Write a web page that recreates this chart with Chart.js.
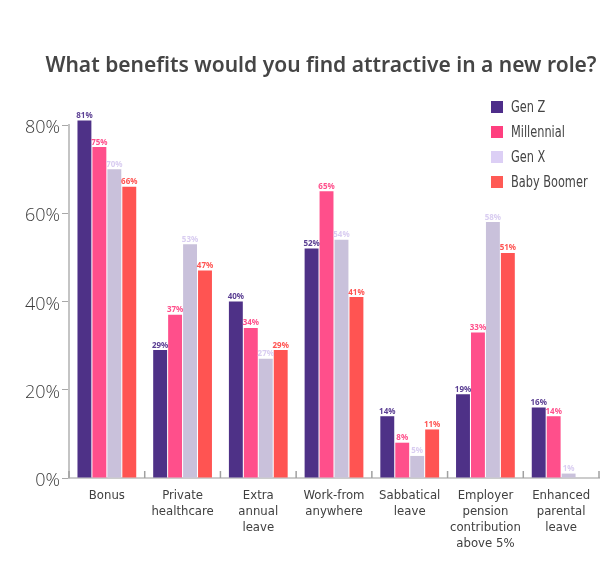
<!DOCTYPE html>
<html>
<head>
<meta charset="utf-8">
<script src="https://cdn.jsdelivr.net/npm/chart.js@4.4.1/dist/chart.umd.min.js"></script>
<style>
  html, body { margin: 0; padding: 0; background: #fff; }
  #wrap { width: 615px; height: 562px; position: relative; }
</style>
</head>
<body>
<div id="wrap"><canvas id="c" width="615" height="562"></canvas></div>
<script>
const titleText = "What benefits would you find attractive in a new role?";
const categories = [
  ["Bonus"],
  ["Private", "healthcare"],
  ["Extra", "annual", "leave"],
  ["Work-from", "anywhere"],
  ["Sabbatical", "leave"],
  ["Employer", "pension", "contribution", "above 5%"],
  ["Enhanced", "parental", "leave"]
];
const seriesNames = ["Gen Z", "Millennial", "Gen X", "Baby Boomer"];
const genZ = [81, 29, 40, 52, 14, 19, 16];
const millennial = [75, 37, 34, 65, 8, 33, 14];
const genX = [70, 53, 27, 54, 5, 58, 1];
const babyBoomer = [66, 47, 29, 41, 11, 51, null];
const yTicks = [0, 20, 40, 60, 80];

const barColors = ["#4e3187", "#ff4f8b", "#c9c1db", "#ff5452"];
const labelColors = ["#5b3f93", "#ff4f8b", "#d9cdf1", "#ff5452"];
const legendColors = ["#4e2d8a", "#ff3f7f", "#dccff5", "#ff5a55"];
const seriesValues = [genZ, millennial, genX, babyBoomer];

const datasets = seriesNames.map((n, i) => ({
  label: n,
  data: seriesValues[i],
  backgroundColor: barColors[i],
  borderWidth: 0,
  barPercentage: 0.93,
  categoryPercentage: 0.79,
  clip: false
}));

const condensed = "'Liberation Sans Narrow', 'DejaVu Sans Condensed', 'Open Sans', sans-serif";

const decoPlugin = {
  id: 'deco',
  afterDraw(chart) {
    const ctx = chart.ctx;
    const area = chart.chartArea;
    const xs = chart.scales.x;
    // title
    ctx.save();
    ctx.fillStyle = '#454545';
    ctx.font = "600 21px 'Noto Sans', sans-serif";
    ctx.textAlign = 'center';
    ctx.textBaseline = 'alphabetic';
    ctx.fillText(titleText, 321, 72);
    ctx.restore();

    // x axis upward ticks at category boundaries
    ctx.save();
    ctx.strokeStyle = '#a0a0a0';
    ctx.lineWidth = 1.5;
    const n = categories.length;
    for (let i = 0; i <= n; i++) {
      let px;
      if (i === 0) px = area.left;
      else if (i === n) px = area.right;
      else px = (xs.getPixelForValue(i - 1) + xs.getPixelForValue(i)) / 2;
      ctx.beginPath();
      ctx.moveTo(px, area.bottom);
      ctx.lineTo(px, area.bottom - 7);
      ctx.stroke();
    }
    ctx.restore();

    // data labels
    ctx.save();
    ctx.font = "bold 8px 'Noto Sans', sans-serif";
    ctx.textAlign = 'center';
    ctx.textBaseline = 'alphabetic';
    chart.data.datasets.forEach((ds, di) => {
      const meta = chart.getDatasetMeta(di);
      meta.data.forEach((bar, i) => {
        const v = ds.data[i];
        if (v === null || v === undefined) return;
        ctx.fillStyle = labelColors[di];
        ctx.fillText(v + '%', bar.x, bar.y - 2.5);
      });
    });
    ctx.restore();

    // legend
    seriesNames.forEach((name, i) => {
      const y = 107 + i * 25;
      ctx.save();
      ctx.fillStyle = legendColors[i];
      ctx.fillRect(491, y - 6, 12, 12);
      ctx.translate(511, y + 1);
      ctx.scale(0.84, 1);
      ctx.font = "15px " + condensed;
      ctx.textBaseline = 'middle';
      ctx.textAlign = 'left';
      ctx.fillStyle = '#444';
      ctx.fillText(name, 0, 0);
      ctx.restore();
    });
  }
};

new Chart(document.getElementById('c'), {
  type: 'bar',
  data: { labels: categories, datasets },
  options: {
    responsive: false,
    animation: false,
    devicePixelRatio: 1,
    layout: { padding: { top: 125, right: 16, left: 0, bottom: 0 } },
    plugins: {
      legend: { display: false },
      title: { display: false },
      tooltip: { enabled: false }
    },
    scales: {
      x: {
        offset: true,
        grid: { display: false, drawOnChartArea: false, drawTicks: false },
        border: { display: true, color: '#cccccc', width: 2 },
        ticks: {
          color: '#404040',
          font: { family: condensed, size: 13, lineHeight: 1.23 },
          padding: 10,
          maxRotation: 0,
          autoSkip: false
        },
        afterFit(s) { s.height = 84; }
      },
      y: {
        min: 0,
        max: 80,
        afterBuildTicks(s) { s.ticks = yTicks.map(v => ({ value: v })); },
        grid: { drawOnChartArea: false, drawTicks: true, tickLength: 7, color: '#a8a8a8', lineWidth: 1 },
        border: { display: true, color: '#c4c4c4', width: 2 },
        ticks: {
          color: '#3a3a3a',
          font: { family: "'Open Sans', sans-serif", size: 18, weight: 300 },
          padding: 2,
          labelOffset: 3,
          callback: v => v + '%'
        },
        afterFit(s) { s.width = 69; }
      }
    }
  },
  plugins: [decoPlugin]
});
</script>
</body>
</html>
